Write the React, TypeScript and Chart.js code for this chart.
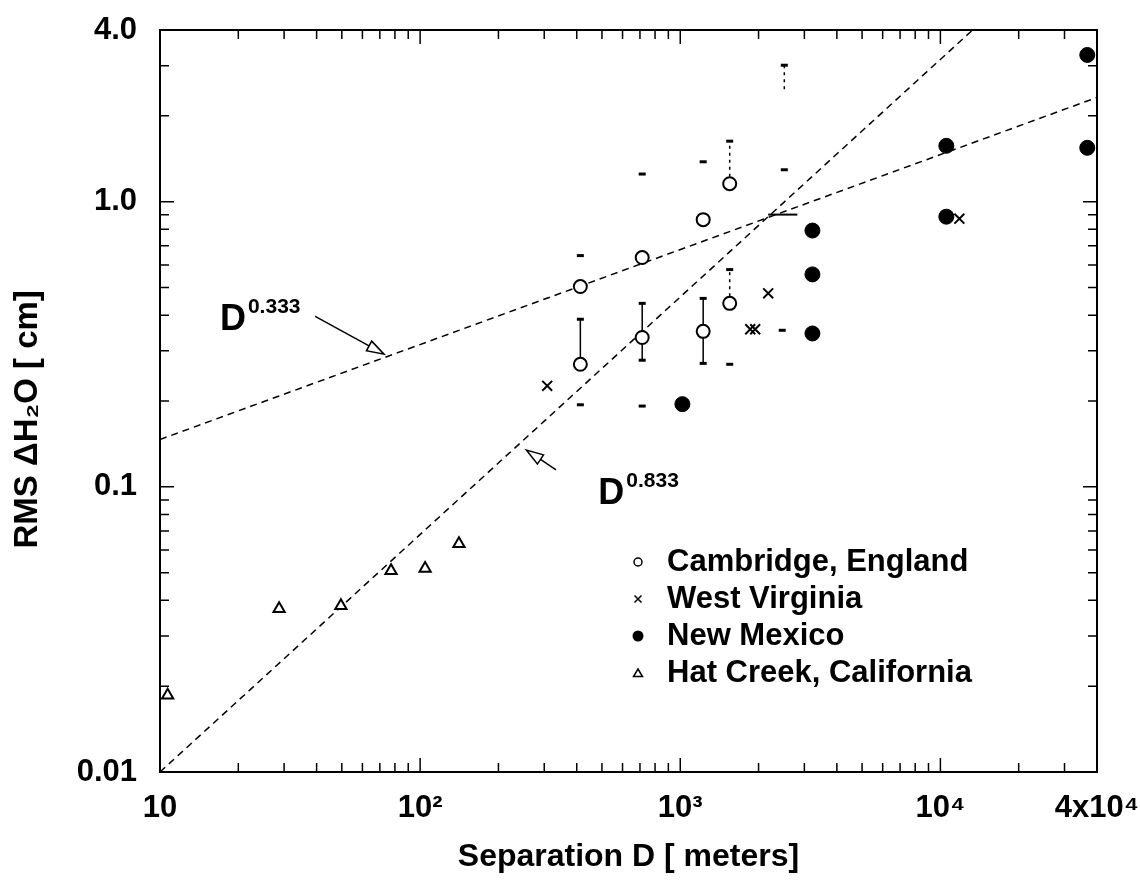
import React, { useEffect, useRef } from 'react';
import { Chart, registerables } from 'chart.js';

Chart.register(...registerables);

const FONT = '"Liberation Sans", Arial, Helvetica, sans-serif';

// ---- data ----
const cambridgeX = [413, 413, 714, 714, 1225, 1225, 1549, 1549];
const cambridgeY = [0.269, 0.504, 0.334, 0.637, 0.351, 0.865, 0.44, 1.156];

const westVirginiaX = [308, 1858, 1941, 2178, 11830];
const westVirginiaY = [0.226, 0.357, 0.357, 0.477, 0.872];

const newMexicoX = [1019, 3222, 3222, 3222, 10540, 10540, 36700, 36700];
const newMexicoY = [0.195, 0.792, 0.556, 0.345, 1.57, 0.886, 3.27, 1.545];

const hatCreekX = [10.7, 28.7, 49.6, 77.3, 104.5, 141];
const hatCreekY = [0.0186, 0.0374, 0.0383, 0.0508, 0.0517, 0.0632];

// error bars: [x, low, high]
const errorBarsSolid = [
  [413, 0.269, 0.387],
  [714, 0.278, 0.44],
  [1225, 0.271, 0.458],
];
const errorBarsDashed = [
  [1549, 0.44, 0.578],
  [1549, 1.156, 1.63],
  [2512, 2.48, 3.01],
];
const capX = [413, 714, 1225, 1549, 1549, 413, 714, 1225, 714, 1225, 1549, 413, 714, 2466, 2512, 2512];
const capY = [0.647, 1.25, 1.38, 1.63, 0.578, 0.387, 0.44, 0.458, 0.278, 0.271, 0.269, 0.194, 0.192, 0.354, 1.294, 3.01];
const crossSegX = [2178, 2818];
const crossSegY = [0.901, 0.901];

// fitted power laws (end points)
const fit333X = [10, 40000];
const fit333Y = [0.1466, 2.32];
const fit833X = [10, 13300];
const fit833Y = [0.01, 4.0];

// axes
const xTickValues = [10, 100, 1000, 10000, 40000];
const xTickLabels = ['10', '10²', '10³', '10⁴', '4x10⁴'];
const xMinorTicks = [20, 30, 40, 50, 60, 70, 80, 90, 200, 300, 400, 500, 600, 700, 800, 900,
  2000, 3000, 4000, 5000, 6000, 7000, 8000, 9000, 20000, 30000];
const yTickValues = [0.01, 0.1, 1, 4];
const yTickLabels = ['0.01', '0.1', '1.0', '4.0'];
const yMinorTicks = [0.02, 0.03, 0.04, 0.05, 0.06, 0.07, 0.08, 0.09,
  0.2, 0.3, 0.4, 0.5, 0.6, 0.7, 0.8, 0.9, 2, 3];

const legendLabels = ['Cambridge, England', 'West Virginia', 'New Mexico', 'Hat Creek, California'];
const legendMarkers = ['openCircle', 'cross', 'dot', 'triangle'];

const annotationTexts = [
  { base: 'D', sup: '0.333', x: 17, y: 0.356, ax0: 39.5, ay0: 0.396, ax1: 72.6, ay1: 0.292 },
  { base: 'D', sup: '0.833', x: 484, y: 0.0872, ax0: 333, ay0: 0.1147, ax1: 256, ay1: 0.1346 },
];

const pts = (xs: number[], ys: number[]) => xs.map((x, i) => ({ x, y: ys[i] }));
const bars = (list: number[][]) => {
  const out: { x: number; y: number | null }[] = [];
  list.forEach(([x, lo, hi]) => {
    out.push({ x, y: lo }, { x, y: hi }, { x, y: null });
  });
  return out;
};

const framePlugin = {
  id: 'frameTicks',
  afterDatasetsDraw(chart: any) {
    const { ctx, chartArea: a, scales } = chart;
    const xs = scales.x;
    const ys = scales.y;
    ctx.save();
    ctx.strokeStyle = '#000';
    ctx.lineWidth = 2;
    ctx.strokeRect(a.left, a.top, a.right - a.left, a.bottom - a.top);
    ctx.lineWidth = 1.5;
    const drawX = (v: number, len: number) => {
      const px = xs.getPixelForValue(v);
      ctx.beginPath();
      ctx.moveTo(px, a.bottom);
      ctx.lineTo(px, a.bottom - len);
      ctx.moveTo(px, a.top);
      ctx.lineTo(px, a.top + len);
      ctx.stroke();
    };
    const drawY = (v: number, len: number) => {
      const py = ys.getPixelForValue(v);
      ctx.beginPath();
      ctx.moveTo(a.left, py);
      ctx.lineTo(a.left + len, py);
      ctx.moveTo(a.right, py);
      ctx.lineTo(a.right - len, py);
      ctx.stroke();
    };
    xTickValues.forEach((v) => drawX(v, 14));
    xMinorTicks.forEach((v) => drawX(v, 9));
    yTickValues.forEach((v) => drawY(v, 14));
    yMinorTicks.forEach((v) => drawY(v, 9));
    ctx.restore();
  },
};

const textPlugin = {
  id: 'textOverlay',
  afterDraw(chart: any) {
    const { ctx, chartArea: a, scales } = chart;
    const xs = scales.x;
    const ys = scales.y;
    ctx.save();
    ctx.fillStyle = '#000';
    ctx.strokeStyle = '#000';
    // annotations
    annotationTexts.forEach((t) => {
      const px = xs.getPixelForValue(t.x);
      const py = ys.getPixelForValue(t.y);
      ctx.font = `bold 36px ${FONT}`;
      ctx.textAlign = 'left';
      ctx.textBaseline = 'alphabetic';
      ctx.fillText(t.base, px, py);
      const w = ctx.measureText(t.base).width;
      ctx.font = `bold 21px ${FONT}`;
      ctx.fillText(t.sup, px + w + 2, py - 17);
      // arrow
      const x0 = xs.getPixelForValue(t.ax0);
      const y0 = ys.getPixelForValue(t.ay0);
      const x1 = xs.getPixelForValue(t.ax1);
      const y1 = ys.getPixelForValue(t.ay1);
      const ang = Math.atan2(y1 - y0, x1 - x0);
      const hl = 17;
      const hw = 5.5;
      const bx = x1 - hl * Math.cos(ang);
      const by = y1 - hl * Math.sin(ang);
      ctx.lineWidth = 1.5;
      ctx.beginPath();
      ctx.moveTo(x0, y0);
      ctx.lineTo(bx, by);
      ctx.stroke();
      ctx.beginPath();
      ctx.moveTo(x1, y1);
      ctx.lineTo(bx + hw * Math.sin(ang), by - hw * Math.cos(ang));
      ctx.lineTo(bx - hw * Math.sin(ang), by + hw * Math.cos(ang));
      ctx.closePath();
      ctx.stroke();
    });
    // legend
    const lx = a.left + 478;
    const tx = a.left + 507;
    const ly0 = a.top + 532;
    const step = 37;
    legendLabels.forEach((lab, i) => {
      const y = ly0 + i * step;
      const m = legendMarkers[i];
      ctx.lineWidth = 1.5;
      ctx.beginPath();
      if (m === 'openCircle') {
        ctx.arc(lx, y, 4, 0, Math.PI * 2);
        ctx.stroke();
      } else if (m === 'cross') {
        ctx.moveTo(lx - 3.5, y - 3.5);
        ctx.lineTo(lx + 3.5, y + 3.5);
        ctx.moveTo(lx + 3.5, y - 3.5);
        ctx.lineTo(lx - 3.5, y + 3.5);
        ctx.stroke();
      } else if (m === 'dot') {
        ctx.arc(lx, y, 5.5, 0, Math.PI * 2);
        ctx.fill();
      } else {
        ctx.moveTo(lx, y - 4);
        ctx.lineTo(lx + 4.5, y + 3.5);
        ctx.lineTo(lx - 4.5, y + 3.5);
        ctx.closePath();
        ctx.stroke();
      }
      ctx.font = `bold 31px ${FONT}`;
      ctx.textAlign = 'left';
      ctx.textBaseline = 'middle';
      ctx.fillText(lab, tx, y);
    });
    ctx.restore();
  },
};

export default function App() {
  const canvasRef = useRef<HTMLCanvasElement | null>(null);

  useEffect(() => {
    if (!canvasRef.current) return;
    const chart = new Chart(canvasRef.current, {
      type: 'scatter',
      data: {
        datasets: [
          {
            label: 'Cambridge, England',
            data: pts(cambridgeX, cambridgeY),
            pointStyle: 'circle',
            pointRadius: 6.5,
            pointBorderWidth: 2,
            pointBackgroundColor: '#fff',
            pointBorderColor: '#000',
            order: 0,
          },
          {
            label: 'West Virginia',
            data: pts(westVirginiaX, westVirginiaY),
            pointStyle: 'crossRot',
            pointRadius: 7,
            pointBorderWidth: 2,
            pointBorderColor: '#000',
            order: 0,
          },
          {
            label: 'New Mexico',
            data: pts(newMexicoX, newMexicoY),
            pointStyle: 'circle',
            pointRadius: 7.5,
            pointBorderWidth: 1,
            pointBackgroundColor: '#000',
            pointBorderColor: '#000',
            order: 0,
          },
          {
            label: 'Hat Creek, California',
            data: pts(hatCreekX, hatCreekY),
            pointStyle: 'triangle',
            pointRadius: 6.5,
            pointBorderWidth: 2,
            pointBackgroundColor: '#fff',
            pointBorderColor: '#000',
            order: 0,
          },
          {
            label: 'caps',
            data: pts(capX, capY),
            pointStyle: 'line',
            pointRadius: 3.5,
            pointBorderWidth: 3,
            pointBorderColor: '#000',
            order: 1,
          },
          {
            label: 'err solid',
            data: bars(errorBarsSolid),
            showLine: true,
            spanGaps: false,
            borderColor: '#000',
            borderWidth: 1.5,
            pointRadius: 0,
            order: 2,
          },
          {
            label: 'err dashed',
            data: bars(errorBarsDashed),
            showLine: true,
            spanGaps: false,
            borderColor: '#000',
            borderWidth: 1.5,
            borderDash: [3, 4],
            pointRadius: 0,
            order: 2,
          },
          {
            label: 'cross segment',
            data: pts(crossSegX, crossSegY),
            showLine: true,
            borderColor: '#000',
            borderWidth: 2,
            pointRadius: 0,
            order: 2,
          },
          {
            label: 'D^0.333',
            data: pts(fit333X, fit333Y),
            showLine: true,
            borderColor: '#000',
            borderWidth: 1.5,
            borderDash: [7, 5],
            pointRadius: 0,
            order: 3,
          },
          {
            label: 'D^0.833',
            data: pts(fit833X, fit833Y),
            showLine: true,
            borderColor: '#000',
            borderWidth: 1.5,
            borderDash: [7, 5],
            pointRadius: 0,
            order: 3,
          },
        ],
      },
      options: {
        animation: false,
        responsive: true,
        maintainAspectRatio: false,
        layout: { padding: { top: 30, right: 43, left: 0, bottom: 0 } },
        plugins: { legend: { display: false }, tooltip: { enabled: false } },
        scales: {
          x: {
            type: 'logarithmic',
            min: 10,
            max: 40000,
            grid: { display: false, drawTicks: false },
            border: { display: false },
            afterBuildTicks: (scale: any) => {
              scale.ticks = xTickValues.map((v) => ({ value: v }));
            },
            afterFit: (scale: any) => {
              scale.height = 109;
              scale.paddingLeft = 0;
              scale.paddingRight = 0;
            },
            ticks: {
              autoSkip: false,
              maxRotation: 0,
              padding: 18,
              color: '#000',
              font: { family: FONT, size: 31, weight: 'bold' },
              callback: (v: any) => {
                const i = xTickValues.indexOf(Number(v));
                return i >= 0 ? xTickLabels[i] : '';
              },
            },
            title: {
              display: true,
              text: 'Separation D [ meters]',
              color: '#000',
              font: { family: FONT, size: 32, weight: 'bold' },
              padding: { top: 0, bottom: 5 },
            },
          },
          y: {
            type: 'logarithmic',
            min: 0.01,
            max: 4,
            grid: { display: false, drawTicks: false },
            border: { display: false },
            afterBuildTicks: (scale: any) => {
              scale.ticks = yTickValues.map((v) => ({ value: v }));
            },
            afterFit: (scale: any) => {
              scale.width = 160;
              scale.paddingTop = 0;
              scale.paddingBottom = 0;
            },
            ticks: {
              autoSkip: false,
              padding: 23,
              color: '#000',
              font: { family: FONT, size: 31, weight: 'bold' },
              callback: (v: any) => {
                const i = yTickValues.indexOf(Number(v));
                return i >= 0 ? yTickLabels[i] : '';
              },
            },
            title: {
              display: true,
              text: 'RMS ΔH₂O [ cm]\u00A0\u00A0\u00A0\u00A0',
              color: '#000',
              font: { family: FONT, size: 33, weight: 'bold' },
              padding: { top: 8, bottom: 0 },
            },
          },
        },
      },
      plugins: [framePlugin, textPlugin],
    });
    return () => chart.destroy();
  }, []);

  return (
    <div style={{ position: 'fixed', left: 0, top: 0, width: 1140, height: 881, background: '#fff' }}>
      <canvas ref={canvasRef} />
    </div>
  );
}
